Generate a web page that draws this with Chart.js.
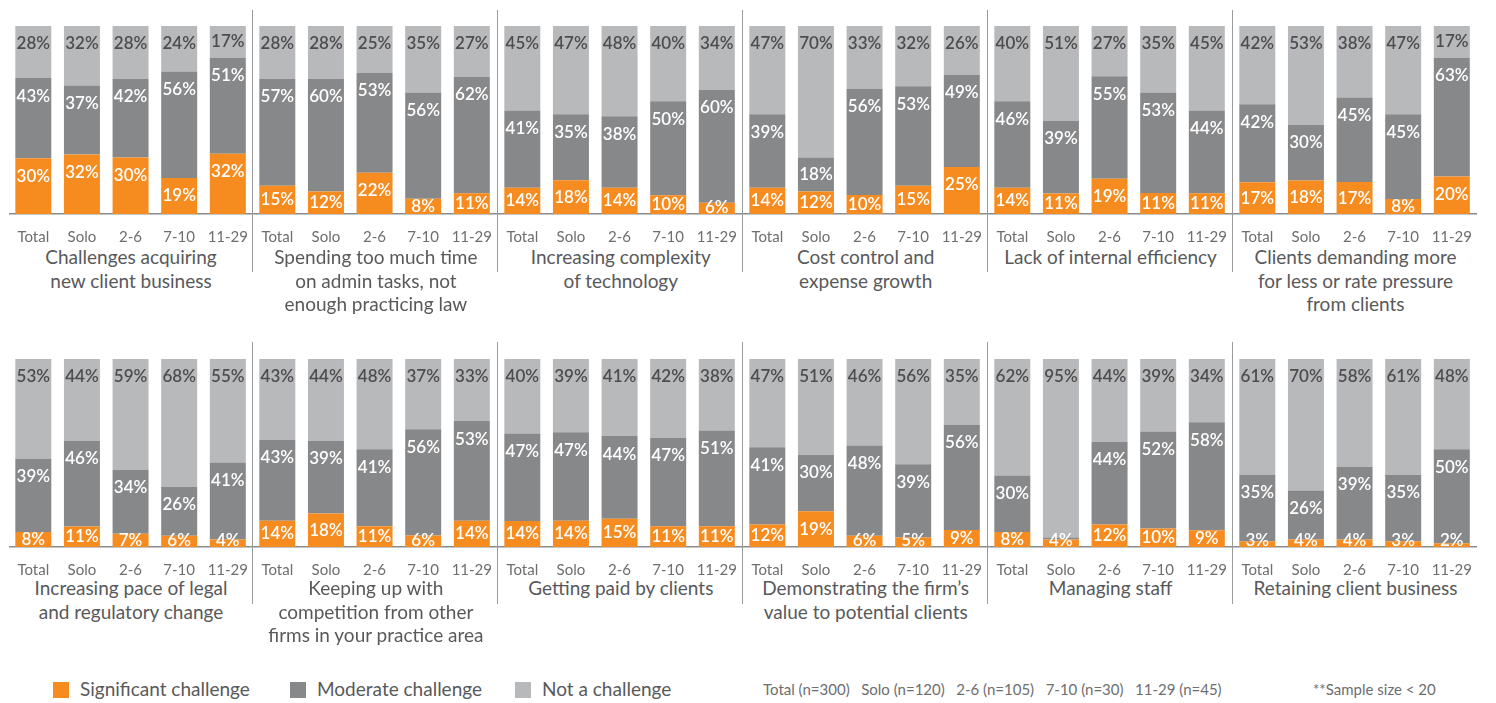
<!DOCTYPE html>
<html>
<head>
<meta charset="utf-8">
<script src="https://cdn.jsdelivr.net/npm/chart.js@4.4.1/dist/chart.umd.min.js"></script>
<style>
  body { margin: 0; background: #fff; width: 1496px; height: 703px; overflow: hidden; position: relative; font-family: Lato, "Open Sans", sans-serif; }
  .panel { position: absolute; width: 245px; height: 232px; }
  .sep { position: absolute; width: 0; height: 262px; border-left: 1.5px solid #9a9b9d; }
  .title { position: absolute; width: 245px; text-align: center; font-size: 19px; line-height: 23.5px; color: #58595b; }
  .key { position: absolute; top: 679px; font-size: 19px; color: #58595b; line-height: 20px; white-space: nowrap; }
  .key i { display: inline-block; width: 16px; height: 16px; vertical-align: -2px; margin-right: 11px; }
  .note { position: absolute; top: 680px; font-size: 15px; color: #6d6e70; line-height: 18px; white-space: pre; }
</style>
</head>
<body>
<script>
const groups = ['Total', 'Solo', '2-6', '7-10', '11-29'];
const challenges = [
  ['Challenges acquiring', 'new client business'],
  ['Spending too much time', 'on admin tasks, not', 'enough practicing law'],
  ['Increasing complexity', 'of technology'],
  ['Cost control and', 'expense growth'],
  ['Lack of internal efficiency'],
  ['Clients demanding more', 'for less or rate pressure', 'from clients'],
  ['Increasing pace of legal', 'and regulatory change'],
  ['Keeping up with', 'competition from other', 'firms in your practice area'],
  ['Getting paid by clients'],
  ['Demonstrating the firm\u2019s', 'value to potential clients'],
  ['Managing staff'],
  ['Retaining client business']
];
const significant = [
  [30, 32, 30, 19, 32], [15, 12, 22, 8, 11], [14, 18, 14, 10, 6], [14, 12, 10, 15, 25],
  [14, 11, 19, 11, 11], [17, 18, 17, 8, 20], [8, 11, 7, 6, 4], [14, 18, 11, 6, 14],
  [14, 14, 15, 11, 11], [12, 19, 6, 5, 9], [8, 4, 12, 10, 9], [3, 4, 4, 3, 2]
];
const moderate = [
  [43, 37, 42, 56, 51], [57, 60, 53, 56, 62], [41, 35, 38, 50, 60], [39, 18, 56, 53, 49],
  [46, 39, 55, 53, 44], [42, 30, 45, 45, 63], [39, 46, 34, 26, 41], [43, 39, 41, 56, 53],
  [47, 47, 44, 47, 51], [41, 30, 48, 39, 56], [30, 1, 44, 52, 58], [35, 26, 39, 35, 50]
];
const notChallenge = [
  [28, 32, 28, 24, 17], [28, 28, 25, 35, 27], [45, 47, 48, 40, 34], [47, 70, 33, 32, 26],
  [40, 51, 27, 35, 45], [42, 53, 38, 47, 17], [53, 44, 59, 68, 55], [43, 44, 48, 37, 33],
  [40, 39, 41, 42, 38], [47, 51, 46, 56, 35], [62, 95, 44, 39, 34], [61, 70, 58, 61, 48]
];
const seriesNames = ['Significant challenge', 'Moderate challenge', 'Not a challenge'];
const sampleSizes = ['Total (n=300)', 'Solo (n=120)', '2-6 (n=105)', '7-10 (n=30)', '11-29 (n=45)'];

const colors = ['#f68b1f', '#87888a', '#b8b9bb'];
const panelLeft = 8.5, panelStep = 244.9;
const rowTop = [10, 343];

// percent text near the top of each segment
const segmentLabels = {
  id: 'segmentLabels',
  afterDatasetsDraw(chart) {
    const ctx = chart.ctx;
    const base = chart.chartArea.bottom;
    ctx.save();
    ctx.font = '600 17px Lato, "Open Sans", sans-serif';
    ctx.textAlign = 'center';
    ctx.textBaseline = 'middle';
    chart.data.datasets.forEach((ds, di) => {
      chart.getDatasetMeta(di).data.forEach((bar, i) => {
        const v = ds.raw[i];
        if (v < 2) return;
        const top = Math.min(bar.y, bar.base);
        const h = Math.abs(bar.base - bar.y);
        const y = Math.min(top + Math.min(18, h / 2), base - 6);
        ctx.fillStyle = di === 2 ? '#4d4d4f' : '#ffffff';
        ctx.fillText(v + '%', bar.x, y);
      });
    });
    ctx.restore();
  }
};

function addPanel(k) {
  const row = Math.floor(k / 6), col = k % 6;
  const left = panelLeft + panelStep * col;
  const top = rowTop[row];

  const box = document.createElement('div');
  box.className = 'panel';
  box.style.left = left + 'px';
  box.style.top = top + 'px';
  const canvas = document.createElement('canvas');
  box.appendChild(canvas);
  document.body.appendChild(box);

  if (col > 0) {
    const sep = document.createElement('div');
    sep.className = 'sep';
    sep.style.left = (left - 1) + 'px';
    sep.style.top = (row === 0 ? 10 : 342) + 'px';
    document.body.appendChild(sep);
  }

  const title = document.createElement('div');
  title.className = 'title';
  title.style.left = left + 'px';
  title.style.top = (top + 204 + (row === 0 ? 31 : 29)) + 'px';
  title.innerHTML = challenges[k].join('<br>');
  document.body.appendChild(title);

  const rows = [significant[k], moderate[k], notChallenge[k]];
  const sums = groups.map((g, i) => rows[0][i] + rows[1][i] + rows[2][i]);

  new Chart(canvas, {
    type: 'bar',
    data: {
      labels: groups,
      datasets: rows.map((vals, di) => ({
        label: seriesNames[di],
        raw: vals,
        data: vals.map((v, i) => v * 100 / sums[i]),
        backgroundColor: colors[di],
        borderWidth: 0,
        barPercentage: 0.74,
        categoryPercentage: 1
      }))
    },
    options: {
      responsive: true,
      maintainAspectRatio: false,
      animation: false,
      layout: { padding: { top: 16, left: 0, right: 0, bottom: 0 } },
      plugins: { legend: { display: false }, tooltip: { enabled: false } },
      scales: {
        x: {
          stacked: true,
          grid: { display: false },
          border: { display: true, color: '#8a8b8d', width: 1.5 },
          ticks: { color: '#6d6e70', padding: 6, font: { family: 'Lato, "Open Sans", sans-serif', size: 15 } },
          afterFit(scale) { scale.height = 28; }
        },
        y: { stacked: true, min: 0, max: 100, display: false }
      }
    },
    plugins: [segmentLabels]
  });
}

challenges.forEach((c, k) => addPanel(k));

// legend and notes
const keyX = [53, 290, 515];
seriesNames.forEach((name, i) => {
  const el = document.createElement('div');
  el.className = 'key';
  el.style.left = keyX[i] + 'px';
  el.innerHTML = '<i style="background:' + colors[i] + '"></i>' + name;
  document.body.appendChild(el);
});
const sizes = document.createElement('div');
sizes.className = 'note';
sizes.style.left = '763px';
sizes.textContent = sampleSizes.join('   ');
document.body.appendChild(sizes);
const star = document.createElement('div');
star.className = 'note';
star.style.left = '1313px';
star.textContent = '**Sample size < 20';
document.body.appendChild(star);
</script>
</body>
</html>
